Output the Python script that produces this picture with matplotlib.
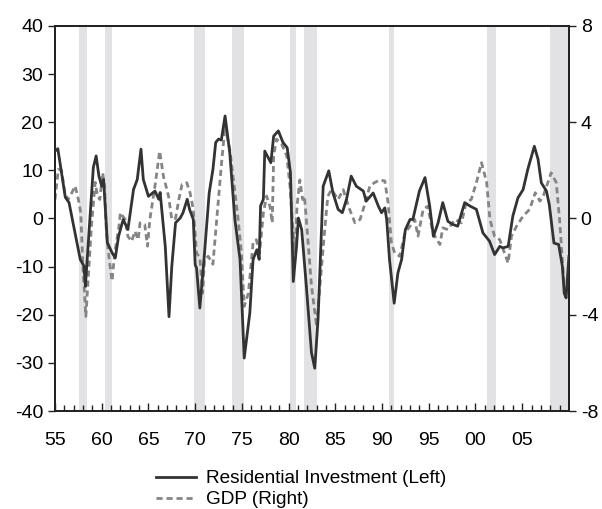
import matplotlib.pyplot as plt
import numpy as np

plt.rcParams['font.family'] = ['Liberation Sans', 'DejaVu Sans']
plt.rcParams['axes.unicode_minus'] = False

# residential investment, year-over-year % (left axis)
ri_t = [1955.0, 1955.3, 1956.1, 1956.5, 1957.7, 1958.1, 1958.25, 1959.1, 1959.4, 1959.7,
        1960.0, 1960.2, 1960.6, 1961.1, 1961.45, 1961.8, 1962.3, 1962.8, 1963.4, 1963.8,
        1964.2, 1964.45, 1965.0, 1965.7, 1966.1, 1966.25, 1966.8, 1967.2, 1967.5, 1967.9,
        1968.4, 1968.7, 1969.15, 1969.4, 1969.8, 1970.0, 1970.15, 1970.5, 1971.0, 1971.5,
        1971.9, 1972.2, 1972.5, 1972.8, 1973.2, 1973.7, 1974.25, 1974.8, 1975.25, 1975.85,
        1976.2, 1976.6, 1976.85, 1977.0, 1977.3, 1977.45, 1978.1, 1978.4, 1978.9, 1979.4,
        1979.85, 1980.2, 1980.5, 1980.85, 1981.05, 1981.4, 1981.9, 1982.45, 1982.8, 1983.15,
        1983.7, 1984.3, 1984.75, 1985.3, 1985.75, 1986.2, 1986.7, 1987.25, 1988.0, 1988.3,
        1989.05, 1989.6, 1989.95, 1990.3, 1990.5, 1990.8, 1991.3, 1991.7, 1992.1, 1992.5,
        1993.0, 1993.3, 1994.0, 1994.6, 1995.1, 1995.5, 1996.0, 1996.5, 1997.05, 1997.6,
        1998.1, 1998.85, 1999.4, 2000.1, 2000.8, 2001.5, 2002.05, 2002.6, 2002.95, 2003.5,
        2004.0, 2004.55, 2005.1, 2005.6, 2006.3, 2006.7, 2007.05, 2007.6, 2007.9, 2008.4,
        2008.9, 2009.3, 2009.5, 2009.7, 2010.0]
ri_v = [14.0, 14.5, 4.4, 3.3, -8.5, -9.9, -14.1, 10.6, 13.0, 8.8,
        6.7, 8.1, -5.0, -7.1, -8.2, -3.7, -0.2, -2.3, 6.0, 8.1,
        14.4, 8.1, 4.6, 5.7, 4.0, 5.4, -5.8, -20.4, -9.9, -0.9,
        0.1, 1.2, 4.0, 1.9, -0.2, -9.6, -10.3, -18.6, -7.2, 5.3,
        10.2, 15.8, 16.5, 16.3, 21.3, 13.7, -0.2, -8.5, -29.0, -19.6,
        -8.5, -6.5, -8.5, 2.6, 4.0, 14.0, 11.6, 17.1, 18.2, 15.8,
        14.7, 9.5, -13.1, -5.8, 0.1, -2.3, -14.1, -27.9, -31.1, -21.0,
        6.7, 9.9, 5.3, 1.9, 1.2, 4.0, 8.8, 6.7, 5.7, 3.6,
        5.3, 2.6, 1.2, 2.2, -0.2, -8.5, -17.6, -11.3, -8.5, -2.3,
        -0.2, -0.2, 5.7, 8.5, 2.6, -3.7, -0.9, 3.3, -0.6, -1.25,
        -1.6, 3.3, 2.6, 1.9, -3.0, -4.7, -7.5, -5.8, -6.1, -5.8,
        0.5, 4.3, 6.0, 10.2, 15.0, 12.3, 7.4, 5.7, 2.9, -5.1,
        -5.4, -9.9, -15.5, -16.5, -7.9]

# GDP, year-over-year % (right axis)
gdp_t = [1955.0, 1955.35, 1955.7, 1956.05, 1956.4, 1956.8, 1957.15, 1957.5, 1957.75, 1958.0,
         1958.3, 1958.55, 1958.9, 1959.3, 1959.55, 1959.8, 1960.1, 1960.3, 1960.5, 1960.8,
         1961.1, 1961.4, 1961.8, 1962.0, 1962.5, 1962.8, 1963.2, 1963.55, 1963.9, 1964.1,
         1964.6, 1964.9, 1965.15, 1965.7, 1966.2, 1966.6, 1967.15, 1967.5, 1967.9, 1968.25,
         1968.6, 1969.1, 1969.45, 1969.8, 1970.15, 1970.5, 1970.8, 1971.0, 1971.4, 1971.9,
         1972.4, 1972.8, 1973.2, 1973.7, 1974.05, 1974.6, 1974.95, 1975.25, 1975.7, 1976.2,
         1976.55, 1976.9, 1977.3, 1977.65, 1978.0, 1978.25, 1978.4, 1978.7, 1979.25, 1979.8,
         1980.15, 1980.5, 1980.7, 1980.9, 1981.2, 1981.5, 1981.7, 1981.95, 1982.45, 1983.0,
         1983.35, 1983.9, 1984.2, 1984.6, 1985.3, 1985.85, 1986.4, 1987.1, 1987.65, 1988.2,
         1988.7, 1989.2, 1989.75, 1990.3, 1990.65, 1991.0, 1991.35, 1991.9, 1992.45, 1993.0,
         1993.5, 1993.85, 1994.4, 1994.9, 1995.45, 1996.2, 1996.5, 1997.05, 1997.8, 1998.5,
         1999.0, 1999.55, 2000.1, 2000.65, 2001.2, 2001.55, 2002.05, 2002.6, 2003.1, 2003.5,
         2003.85, 2004.4, 2005.1, 2005.8, 2006.4, 2006.9, 2007.25, 2007.75, 2008.1, 2008.65,
         2009.0, 2009.3, 2009.55, 2009.8]
gdp_v = [0.79, 2.04, 2.0, 1.07, 0.79, 1.07, 1.35, 0.79, 0.24, -2.1,
         -4.07, -2.5, -0.3, 1.5, 0.93, 0.79, 1.9, 1.35, -0.6, -1.7,
         -2.6, -1.4, -0.46, 0.24, -0.04, -0.74, -0.95, -0.53, -0.88, -0.18,
         -0.25, -1.15, -0.04, 1.35, 2.8, 1.76, 0.93, -0.04, 0.0, 0.79,
         1.42, 1.49, 1.07, 0.38, -1.43, -1.64, -3.1, -1.7, -1.57, -1.9,
         0.4, 2.2, 3.85, 2.88, 1.76, -0.04, -1.43, -3.65, -3.1, -1.0,
         -0.88, -1.43, 0.24, 0.93, 0.51, -0.18, 2.6, 3.3, 3.1, 2.6,
         1.35, -0.74, -1.43, 0.51, 1.6, 0.79, 0.93, -0.32, -2.8, -4.5,
         -2.8, -0.32, 0.93, 1.2, 0.79, 1.2, 0.51, -0.18, -0.04, 0.65,
         1.35, 1.49, 1.6, 1.56, 0.65, -1.0, -1.43, -1.57, -0.6, -0.32,
         -0.04, -0.74, 0.38, 0.51, -0.6, -1.08, -0.39, -0.46, -0.04, -0.18,
         0.65, 0.79, 1.49, 2.32, 1.49, -0.04, -0.74, -0.88, -1.43, -1.85,
         -0.74, -0.32, 0.1, 0.38, 1.07, 0.72, 0.93, 1.49, 1.9, 1.49,
         -0.04, -1.7, -3.1, -3.2]

# recession periods (start, end)
rec_start = [1957.6, 1960.3, 1969.9, 1973.9, 1980.15, 1981.6, 1990.7, 2001.25, 2008.0]
rec_end = [1958.4, 1961.15, 1971.0, 1975.25, 1980.75, 1983.0, 1991.25, 2002.15, 2010.0]

fig = plt.figure(figsize=(6.02, 5.09), dpi=100)
ax = fig.add_axes([0.0914, 0.1925, 0.8536, 0.7565])
ax2 = ax.twinx()

for s, e in zip(rec_start, rec_end):
    ax2.axvspan(s, e, color='#e2e2e4', lw=0, zorder=0)

l1, = ax.plot(ri_t, ri_v, color='#333333', lw=2.0, zorder=3,
              label='Residential Investment (Left)')
l2, = ax2.plot(gdp_t, gdp_v, color='#858585', lw=2.0, ls=(0, (2.2, 1.4)), zorder=2,
               label='GDP (Right)')

ax.set_xlim(1955, 2010)
ax.set_ylim(-40, 40)
ax2.set_ylim(-8, 8)
ax.set_yticks(np.arange(-40, 41, 10))
ax2.set_yticks([-8, -4, 0, 4, 8])
ax.set_xticks(np.arange(1955, 2006, 5))
ax.set_xticklabels(['55', '60', '65', '70', '75', '80', '85', '90', '95', '00', '05'])
ax.set_xticks(np.arange(1955, 2010, 1), minor=True)

ax.tick_params(axis='x', which='major', direction='in', length=6, width=1,
               labelsize=14, pad=15, color='#222222')
ax.tick_params(axis='x', which='minor', direction='in', length=4, width=1, color='#222222')
ax.tick_params(axis='y', direction='out', length=5, width=1, labelsize=14, color='#222222')
ax2.tick_params(axis='y', direction='out', length=5, width=1, labelsize=14, color='#222222')

for a in (ax, ax2):
    for sp in a.spines.values():
        sp.set_color('#222222')
        sp.set_linewidth(1.3)

ax.set_zorder(ax2.get_zorder() + 1)
ax.patch.set_visible(False)

fig.legend(handles=[l1, l2], loc='center', bbox_to_anchor=(0.5, 0.039),
           frameon=False, fontsize=13.7, handlelength=2.1, handletextpad=0.5,
           labelspacing=0.2, borderaxespad=0)

fig.savefig('out.png', dpi=100)
